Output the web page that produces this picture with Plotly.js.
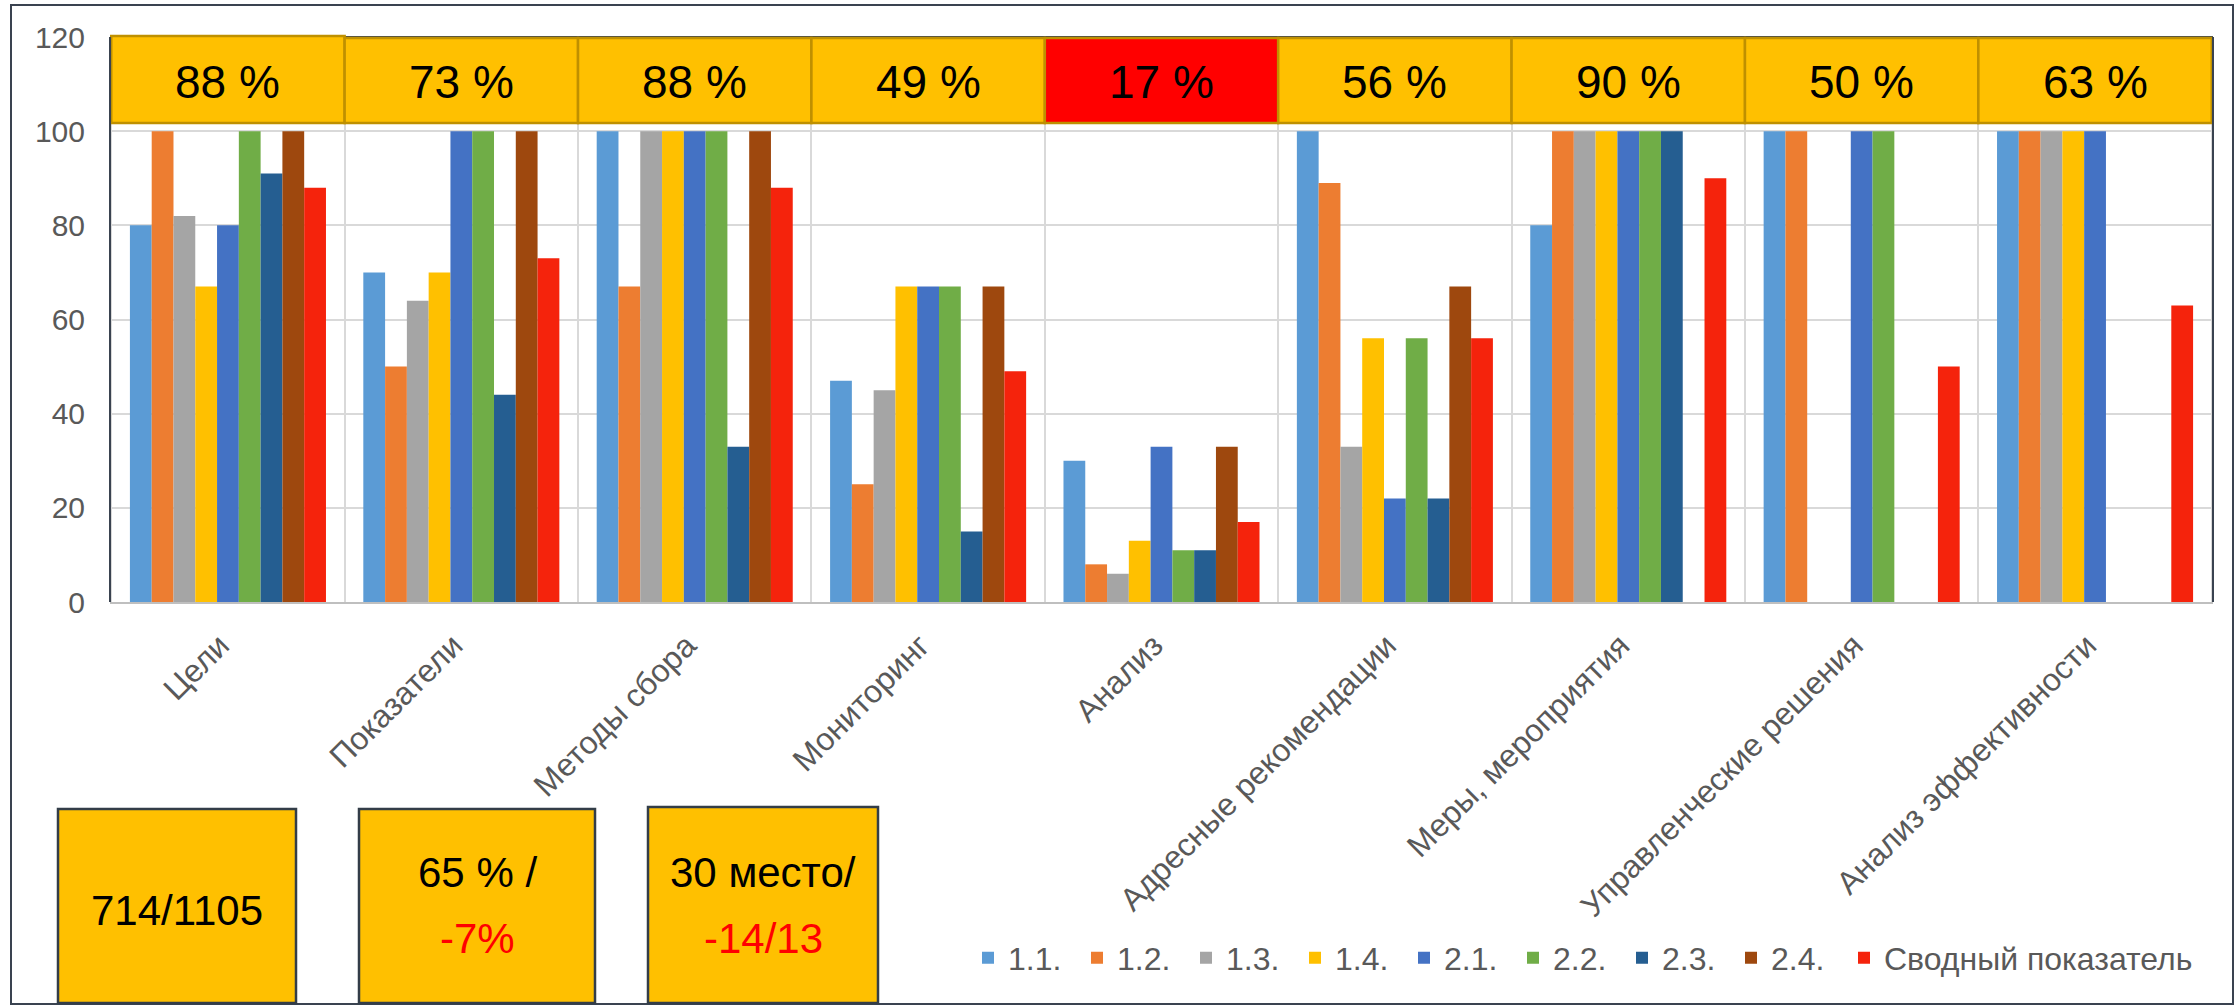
<!DOCTYPE html>
<html>
<head>
<meta charset="utf-8">
<script src="https://cdn.plot.ly/plotly-3.0.1.min.js"></script>
<style>html,body{margin:0;padding:0;background:#fff;}#chart{width:2240px;height:1006px;}</style>
</head>
<body>
<div id="chart"></div>
<script>
// ---- DATA ----
const categories = ["Цели","Показатели","Методы сбора","Мониторинг","Анализ","Адресные рекомендации","Меры, мероприятия","Управленческие решения","Анализ эффективности"];
const seriesNames = ["1.1.","1.2.","1.3.","1.4.","2.1.","2.2.","2.3.","2.4.","Сводный показатель"];
const s11 = [80, 70, 100, 47, 30, 100, 80, 100, 100];
const s12 = [100, 50, 67, 25, 8, 89, 100, 100, 100];
const s13 = [82, 64, 100, 45, 6, 33, 100, 0, 100];
const s14 = [67, 70, 100, 67, 13, 56, 100, 0, 100];
const s21 = [80, 100, 100, 67, 33, 22, 100, 100, 100];
const s22 = [100, 100, 100, 67, 11, 56, 100, 100, 0];
const s23 = [91, 44, 33, 15, 11, 22, 100, 0, 0];
const s24 = [100, 100, 100, 67, 33, 67, 0, 0, 0];
const summary = [88, 73, 88, 49, 17, 56, 90, 50, 63];
const topLabels = ["88 %","73 %","88 %","49 %","17 %","56 %","90 %","50 %","63 %"];
const bottomBoxLines = [["714/1105"], ["65 % /", "-7%"], ["30 место/", "-14/13"]];

// ---- STYLE ----
const colors = ["#5B9BD5","#ED7D31","#A5A5A5","#FFC000","#4472C4","#70AD47","#255E91","#9E480E","#F5230C"];
const FONT = "Liberation Sans, Arial, sans-serif";
const allSeries = [s11,s12,s13,s14,s21,s22,s23,s24,summary];

// plot area in pixels
const PL = 110, PR = 2213, PT = 37, PB = 602;
const px = x => (x - PL) / (PR - PL);
const py = y => (PB - y) / (PB - PT);

const traces = allSeries.map((vals, i) => ({
  type: "bar",
  name: seriesNames[i],
  x: categories,
  y: vals,
  marker: {color: colors[i], line: {width: 0}},
  legend: i === allSeries.length - 1 ? "legend2" : "legend",
  hoverinfo: "x+y+name"
}));

const shapes = [];
const annotations = [];

// top percentage boxes
summary.forEach((v, i) => {
  shapes.push({
    type: "rect", xref: "x", yref: "paper",
    x0: i - 0.5, x1: i + 0.5,
    y0: py(123), y1: py(i === 0 ? 36 : 38),
    fillcolor: v < 20 ? "#FF0000" : "#FFC000",
    line: {color: "#BF9000", width: 2.5},
    layer: "above"
  });
  annotations.push({
    xref: "x", yref: "paper", x: i, y: py(82),
    text: topLabels[i], showarrow: false,
    font: {family: FONT, size: 46, color: "#000"},
    xanchor: "center", yanchor: "middle"
  });
});

// plot area border (left, top, right)
const dark = "#3A4350";
shapes.push({type:"line", xref:"paper", yref:"paper", x0:0, x1:0, y0:0, y1:1, line:{color:dark, width:2}});
shapes.push({type:"line", xref:"paper", yref:"paper", x0:0, x1:1, y0:1, y1:1, line:{color:dark, width:2}, layer:"below"});
shapes.push({type:"line", xref:"paper", yref:"paper", x0:1, x1:1, y0:0, y1:1, line:{color:dark, width:2}});

// outer border
shapes.push({type:"rect", xref:"paper", yref:"paper",
  x0: px(11), x1: px(2233), y0: py(1004), y1: py(5),
  line:{color:dark, width:2}, fillcolor:"rgba(0,0,0,0)"});

// bottom boxes
const boxes = [
  {x0: 58, x1: 296, y0: 809, y1: 1003},
  {x0: 359, x1: 595, y0: 809, y1: 1003},
  {x0: 648, x1: 878, y0: 807, y1: 1003}
];
boxes.forEach((b, k) => {
  shapes.push({type:"rect", xref:"paper", yref:"paper",
    x0: px(b.x0), x1: px(b.x1), y0: py(b.y1), y1: py(b.y0),
    fillcolor:"#FFC000", line:{color:"#333D48", width:2.5}});
  const cx = (b.x0 + b.x1) / 2;
  const lines = bottomBoxLines[k];
  if (lines.length === 1) {
    annotations.push({xref:"paper", yref:"paper", x: px(cx), y: py(910), text: lines[0],
      showarrow:false, xanchor:"center", yanchor:"middle",
      font:{family:FONT, size:42, color:"#000"}});
  } else {
    annotations.push({xref:"paper", yref:"paper", x: px(cx), y: py(872), text: lines[0],
      showarrow:false, xanchor:"center", yanchor:"middle",
      font:{family:FONT, size:42, color:"#000"}});
    annotations.push({xref:"paper", yref:"paper", x: px(cx), y: py(938), text: lines[1],
      showarrow:false, xanchor:"center", yanchor:"middle",
      font:{family:FONT, size:42, color:"#FF0000"}});
  }
});

const legendBase = {
  orientation: "h", xref: "container", yref: "container",
  xanchor: "left", y: 1 - 958 / 1006, yanchor: "middle",
  font: {family: FONT, size: 32, color: "#595959"},
  itemwidth: 30, bgcolor: "rgba(0,0,0,0)", traceorder: "normal"
};

const layout = {
  width: 2240, height: 1006,
  margin: {l: PL, r: 2240 - PR, t: PT, b: 1006 - PB, pad: 0},
  paper_bgcolor: "#fff", plot_bgcolor: "#fff",
  barmode: "group", bargap: 0.16, bargroupgap: 0,
  font: {family: FONT, color: "#595959"},
  xaxis: {
    type: "category",
    tickson: "boundaries",
    showgrid: true, gridcolor: "#D9D9D9", gridwidth: 2,
    showline: true, linecolor: "#BFBFBF", linewidth: 2,
    ticks: "", tickangle: -45, ticklabelstandoff: 10, ticklabelshift: -8,
    tickfont: {family: FONT, size: 32, color: "#595959"},
    fixedrange: true
  },
  yaxis: {
    range: [0, 120], dtick: 20, tick0: 0,
    showgrid: true, gridcolor: "#D9D9D9", gridwidth: 2,
    zeroline: false, showline: false,
    ticks: "", ticklabelstandoff: 24,
    tickfont: {family: FONT, size: 30, color: "#595959"},
    fixedrange: true
  },
  showlegend: true,
  legend: Object.assign({}, legendBase, {x: 968 / 2240, entrywidth: 64, entrywidthmode: "pixels"}),
  legend2: Object.assign({}, legendBase, {x: 1844 / 2240}),
  shapes: shapes,
  annotations: annotations
};

Plotly.newPlot("chart", traces, layout, {displayModeBar: false, staticPlot: true});
</script>
</body>
</html>
